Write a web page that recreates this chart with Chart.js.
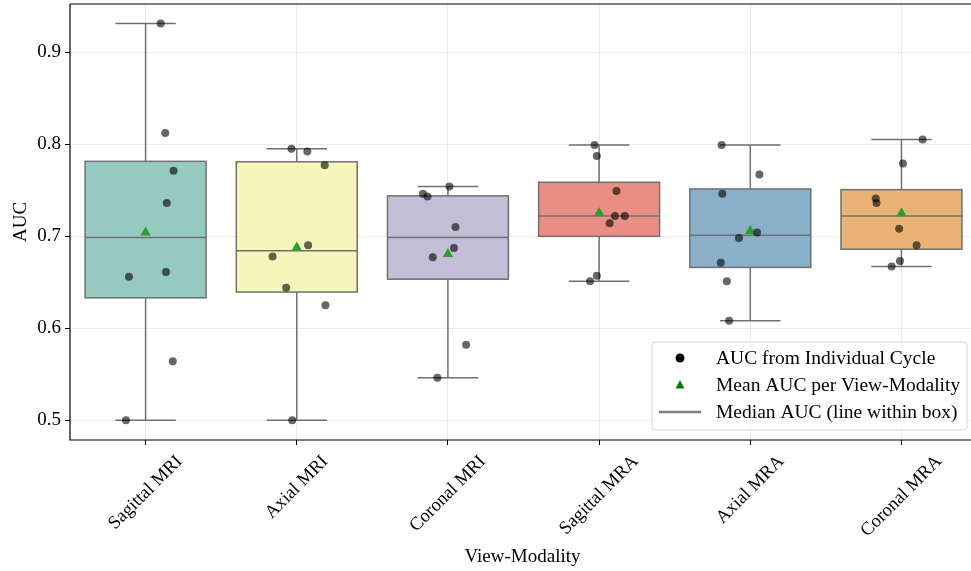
<!DOCTYPE html>
<html>
<head>
<meta charset="utf-8">
<script src="https://cdn.jsdelivr.net/npm/chart.js@4/dist/chart.umd.min.js"></script>
<style>
  html, body { margin: 0; padding: 0; background: #fff; overflow: hidden; }
  #wrap { width: 971px; height: 571px; }
</style>
</head>
<body>
<div id="wrap"><canvas id="chart" width="971" height="571"></canvas></div>
<script>
// data
const categories = ['Sagittal MRI', 'Axial MRI', 'Coronal MRI', 'Sagittal MRA', 'Axial MRA', 'Coronal MRA'];

const aucSagittalMRI = [0.931, 0.812, 0.771, 0.736, 0.656, 0.661, 0.564, 0.500];
const aucAxialMRI    = [0.795, 0.792, 0.777, 0.690, 0.678, 0.644, 0.625, 0.500];
const aucCoronalMRI  = [0.754, 0.746, 0.743, 0.710, 0.687, 0.677, 0.582, 0.546];
const aucSagittalMRA = [0.799, 0.787, 0.749, 0.722, 0.722, 0.714, 0.657, 0.651];
const aucAxialMRA    = [0.799, 0.767, 0.746, 0.704, 0.698, 0.671, 0.651, 0.608];
const aucCoronalMRA  = [0.805, 0.779, 0.741, 0.736, 0.708, 0.690, 0.673, 0.667];

// horizontal jitter of each strip point (category units)
const jitSagittalMRI = [0.10, 0.13, 0.185, 0.14, -0.11, 0.135, 0.18, -0.13];
const jitAxialMRI    = [-0.035, 0.07, 0.185, 0.075, -0.16, -0.07, 0.19, -0.03];
const jitCoronalMRI  = [0.01, -0.165, -0.135, 0.05, 0.04, -0.10, 0.12, -0.07];
const jitSagittalMRA = [-0.03, -0.015, 0.115, 0.105, 0.17, 0.07, -0.015, -0.06];
const jitAxialMRA    = [-0.19, 0.06, -0.185, 0.045, -0.075, -0.195, -0.155, -0.14];
const jitCoronalMRA  = [0.14, 0.01, -0.17, -0.165, -0.015, 0.10, -0.01, -0.065];

const yTicks = [0.5, 0.6, 0.7, 0.8, 0.9];
const boxColors = ['#96cac1', '#f6f6bc', '#c1bed6', '#ea8e83', '#8aafc8', '#eab375'];

const allAuc = [aucSagittalMRI, aucAxialMRI, aucCoronalMRI, aucSagittalMRA, aucAxialMRA, aucCoronalMRA];
const allJit = [jitSagittalMRI, jitAxialMRI, jitCoronalMRI, jitSagittalMRA, jitAxialMRA, jitCoronalMRA];

const FONT = '"Liberation Serif", "DejaVu Serif", serif';
const lineColor = '#707070';

function quantile(sorted, p) {
  const pos = (sorted.length - 1) * p;
  const lo = Math.floor(pos), hi = Math.ceil(pos);
  return sorted[lo] + (sorted[hi] - sorted[lo]) * (pos - lo);
}

const stats = allAuc.map(vals => {
  const s = [...vals].sort((a, b) => a - b);
  const q1 = quantile(s, 0.25), q3 = quantile(s, 0.75), med = quantile(s, 0.5);
  const iqr = q3 - q1;
  const inside = s.filter(v => v >= q1 - 1.5 * iqr && v <= q3 + 1.5 * iqr);
  const mean = vals.reduce((a, b) => a + b, 0) / vals.length;
  return { q1, q3, med, lo: inside[0], hi: inside[inside.length - 1], mean };
});

const points = [];
allAuc.forEach((vals, i) => vals.forEach((v, j) => points.push({ x: i + allJit[i][j], y: v })));
const means = stats.map((s, i) => ({ x: i, y: s.mean }));

// no extra room for half-labels at the scale ends
const noPad = s => { s.paddingTop = 0; s.paddingBottom = 0; s.paddingLeft = 0; s.paddingRight = 0; };

const boxPlugin = {
  id: 'boxes',
  beforeDatasetsDraw(chart) {
    const { ctx, scales: { x, y } } = chart;
    ctx.save();
    ctx.lineWidth = 1.5;
    ctx.strokeStyle = lineColor;
    const seg = (x1, y1, x2, y2) => { ctx.beginPath(); ctx.moveTo(x1, y1); ctx.lineTo(x2, y2); ctx.stroke(); };
    stats.forEach((s, i) => {
      const xl = x.getPixelForValue(i - 0.4), xr = x.getPixelForValue(i + 0.4);
      const xc = x.getPixelForValue(i);
      const cl = x.getPixelForValue(i - 0.2), cr = x.getPixelForValue(i + 0.2);
      const yq1 = y.getPixelForValue(s.q1), yq3 = y.getPixelForValue(s.q3);
      seg(xc, yq3, xc, y.getPixelForValue(s.hi));
      seg(xc, yq1, xc, y.getPixelForValue(s.lo));
      seg(cl, y.getPixelForValue(s.hi), cr, y.getPixelForValue(s.hi));
      seg(cl, y.getPixelForValue(s.lo), cr, y.getPixelForValue(s.lo));
      ctx.fillStyle = boxColors[i];
      ctx.fillRect(xl, yq3, xr - xl, yq1 - yq3);
      ctx.strokeRect(xl, yq3, xr - xl, yq1 - yq3);
      const ym = y.getPixelForValue(s.med);
      seg(xl, ym, xr, ym);
    });
    ctx.restore();
  },
  afterDraw(chart) {
    const { ctx, chartArea: a, scales: { x } } = chart;
    ctx.save();
    // spines
    ctx.strokeStyle = '#000';
    ctx.lineWidth = 1.2;
    ctx.beginPath();
    ctx.moveTo(a.left, a.top); ctx.lineTo(a.right, a.top);
    ctx.moveTo(a.left, a.top); ctx.lineTo(a.left, a.bottom);
    ctx.lineTo(a.right, a.bottom);
    ctx.stroke();

    // rotated x labels, centred on the tick
    ctx.fillStyle = '#000';
    ctx.font = '18.5px ' + FONT;
    categories.forEach((c, i) => {
      const px = x.getPixelForValue(i);
      const w = ctx.measureText(c).width;
      const bb = (w + 16) * Math.SQRT1_2;
      ctx.save();
      ctx.translate(px, a.bottom + 13 + bb / 2);
      ctx.rotate(-Math.PI / 4);
      ctx.textAlign = 'center';
      ctx.textBaseline = 'middle';
      ctx.fillText(c, 0, 0);
      ctx.restore();
    });

    // axis titles
    ctx.font = '19px ' + FONT;
    ctx.textAlign = 'center';
    ctx.textBaseline = 'middle';
    ctx.fillText('View-Modality', (a.left + a.right) / 2 + 2, 557);
    ctx.save();
    ctx.translate(21, (a.top + a.bottom) / 2);
    ctx.rotate(-Math.PI / 2);
    ctx.fillText('AUC', 0, 0);
    ctx.restore();

    // legend
    const lx = a.right - 319, ly = a.bottom - 98, lw = 315, lh = 88;
    ctx.beginPath();
    ctx.roundRect(lx, ly, lw, lh, 3);
    ctx.fillStyle = 'rgba(255,255,255,0.85)';
    ctx.fill();
    ctx.strokeStyle = '#d5d5d5';
    ctx.lineWidth = 1;
    ctx.stroke();
    const rows = [ly + 16, ly + 43, ly + 70];
    const mx = lx + 28;
    ctx.fillStyle = '#000';
    ctx.beginPath(); ctx.arc(mx, rows[0], 4.5, 0, Math.PI * 2); ctx.fill();
    ctx.fillStyle = '#008000';
    ctx.beginPath();
    ctx.moveTo(mx, rows[1] - 5); ctx.lineTo(mx + 4.5, rows[1] + 3.5); ctx.lineTo(mx - 4.5, rows[1] + 3.5);
    ctx.closePath(); ctx.fill();
    ctx.strokeStyle = '#808080';
    ctx.lineWidth = 2.5;
    ctx.beginPath(); ctx.moveTo(lx + 7, rows[2]); ctx.lineTo(lx + 49, rows[2]); ctx.stroke();
    ctx.fillStyle = '#000';
    ctx.font = '19.5px ' + FONT;
    ctx.textAlign = 'left';
    ctx.fillText('AUC from Individual Cycle', lx + 64, rows[0] + 1);
    ctx.fillText('Mean AUC per View-Modality', lx + 64, rows[1] + 1);
    ctx.fillText('Median AUC (line within box)', lx + 64, rows[2] + 1);
    ctx.restore();
  }
};

new Chart(document.getElementById('chart'), {
  type: 'scatter',
  data: {
    datasets: [
      {
        label: 'AUC from Individual Cycle',
        data: points,
        backgroundColor: 'rgba(0,0,0,0.6)',
        borderWidth: 0,
        pointRadius: 4
      },
      {
        label: 'Mean AUC per View-Modality',
        data: means,
        pointStyle: 'triangle',
        backgroundColor: '#2ca02c',
        borderWidth: 0,
        pointRadius: 6
      }
    ]
  },
  options: {
    responsive: false,
    animation: false,
    events: [],
    layout: { autoPadding: false, padding: { top: 4, right: 0, left: 0, bottom: 0 } },
    plugins: { legend: { display: false }, tooltip: { enabled: false } },
    scales: {
      x: {
        type: 'linear',
        min: -0.5,
        max: 5.46,
        afterBuildTicks: s => { s.ticks = categories.map((c, i) => ({ value: i })); },
        afterFit: s => { s.height = 131; noPad(s); },
        ticks: { display: false },
        grid: { color: '#ebebeb', lineWidth: 1, tickLength: 5, tickColor: '#000' },
        border: { display: false }
      },
      y: {
        min: 0.4785,
        max: 0.9522,
        afterBuildTicks: s => { s.ticks = yTicks.map(v => ({ value: v })); },
        afterFit: s => { s.width = 70; noPad(s); },
        ticks: {
          color: '#000',
          padding: 4,
          font: { family: FONT, size: 19 },
          callback: v => v.toFixed(1)
        },
        grid: { color: '#ebebeb', lineWidth: 1, tickLength: 5, tickColor: '#000' },
        border: { display: false }
      }
    }
  },
  plugins: [boxPlugin]
});
</script>
</body>
</html>
